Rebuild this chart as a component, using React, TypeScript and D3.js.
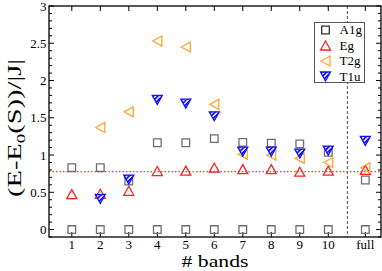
import * as d3 from 'd3'
import React from 'react'

// x positions of the categories ("full" sits a bit further right)
const bandPos = [1, 2, 3, 4, 5, 6, 7, 8, 9, 10, 11.3]
const bandLabels = ['1', '2', '3', '4', '5', '6', '7', '8', '9', '10', 'full']

const groundVals = [0, 0, 0, 0, 0, 0, 0, 0, 0, 0, 0]
const a1gVals = [0.83, 0.83, 0.65, 1.165, 1.165, 1.22, 1.17, 1.16, 1.15, 1.035, 0.665]
const egVals = [0.475, 0.48, 0.52, 0.785, 0.79, 0.83, 0.81, 0.81, 0.776, 0.79, 0.8]
const t2gVals: (number | null)[] = [null, 1.37, 1.58, 2.53, 2.45, 1.68, 1.01, 1.0, 0.955, 0.9, 0.83]
const t1uVals: (number | null)[] = [null, 0.41, 0.67, 1.74, 1.69, 1.52, 1.045, 1.045, 1.02, 1.06, 1.19]

const refLine = 0.776
const splitPos = 10.67

const yTicks = [0, 0.5, 1, 1.5, 2, 2.5, 3]

const W = 382
const H = 271
const margin = { top: 6, right: 1, bottom: 34, left: 49 }
const font = 'Liberation Serif, serif'

const colors = { A1g: '#6e6e6e', Eg: '#ff2020', T2g: '#ffa530', T1u: '#1010ff' }

type Shape = 'square' | 'up' | 'left' | 'down'

function shapePath(shape: Shape) {
    if (shape === 'square') return 'M-3.8,-3.8H3.8V3.8H-3.8Z'
    if (shape === 'up') return 'M0,-4.5L5,4.5L-5,4.5Z'
    if (shape === 'left') return 'M-4.5,0L4.5,-5L4.5,5Z'
    return 'M0,4.5L-5,-4.5L5,-4.5Z'
}

export default function App() {
    const svgRef = React.useRef<SVGSVGElement | null>(null)

    React.useEffect(() => {
        const svg = d3.select(svgRef.current)
        svg.selectAll('*').remove()

        const x = d3.scaleLinear().domain([0.2, 11.85]).range([margin.left, W - margin.right])
        const y = d3.scaleLinear().domain([-0.1, 3]).range([H - margin.bottom, margin.top])

        const x0 = margin.left
        const x1 = W - margin.right
        const y0 = H - margin.bottom
        const y1 = margin.top

        // hatch for T1u
        const defs = svg.append('defs')
        const pat = defs
            .append('pattern')
            .attr('id', 'hatch')
            .attr('patternUnits', 'userSpaceOnUse')
            .attr('width', 3.2)
            .attr('height', 3.2)
            .attr('patternTransform', 'rotate(45)')
        pat.append('rect').attr('width', 3.2).attr('height', 3.2).attr('fill', '#fff')
        pat.append('rect').attr('width', 1.8).attr('height', 3.2).attr('fill', colors.T1u)

        // reference line
        svg.append('line')
            .attr('x1', x0)
            .attr('x2', x1)
            .attr('y1', y(refLine))
            .attr('y2', y(refLine))
            .attr('stroke', '#ff3030')
            .attr('stroke-width', 1.2)
            .attr('stroke-dasharray', '1.5,2')

        // separator before "full"
        svg.append('line')
            .attr('x1', x(splitPos))
            .attr('x2', x(splitPos))
            .attr('y1', y1)
            .attr('y2', y0)
            .attr('stroke', '#555')
            .attr('stroke-width', 1)
            .attr('stroke-dasharray', '3,2')

        // ticks
        const ticks = svg.append('g').attr('stroke', '#000').attr('stroke-width', 1)
        const minor = d3.range(-0.1, 3.001, 0.1).filter((v) => Math.abs(v * 2 - Math.round(v * 2)) > 0.01)
        yTicks.forEach((v) => {
            ticks.append('line').attr('x1', x0).attr('x2', x0 + 5).attr('y1', y(v)).attr('y2', y(v))
            ticks.append('line').attr('x1', x1).attr('x2', x1 - 5).attr('y1', y(v)).attr('y2', y(v))
        })
        minor.forEach((v) => {
            ticks.append('line').attr('x1', x0).attr('x2', x0 + 3).attr('y1', y(v)).attr('y2', y(v))
            ticks.append('line').attr('x1', x1).attr('x2', x1 - 3).attr('y1', y(v)).attr('y2', y(v))
        })
        bandPos.forEach((v) => {
            ticks.append('line').attr('x1', x(v)).attr('x2', x(v)).attr('y1', y0).attr('y2', y0 - 5)
            ticks.append('line').attr('x1', x(v)).attr('x2', x(v)).attr('y1', y1).attr('y2', y1 + 5)
        })

        // frame
        svg.append('rect')
            .attr('x', x0)
            .attr('y', y1)
            .attr('width', x1 - x0)
            .attr('height', y0 - y1)
            .attr('fill', 'none')
            .attr('stroke', '#000')
            .attr('stroke-width', 1.3)

        // tick labels
        svg.append('g')
            .selectAll('text')
            .data(yTicks)
            .join('text')
            .attr('x', x0 - 2.5)
            .attr('y', (d) => y(d) + 4.5)
            .attr('text-anchor', 'end')
            .attr('font-family', font)
            .attr('font-size', 13)
            .text((d) => String(d))

        svg.append('g')
            .selectAll('text')
            .data(bandPos)
            .join('text')
            .attr('x', (d) => x(d))
            .attr('y', 249)
            .attr('text-anchor', 'middle')
            .attr('font-family', font)
            .attr('font-size', 13)
            .text((d, i) => bandLabels[i])

        // axis titles
        svg.append('text')
            .attr('x', (x0 + x1) / 2)
            .attr('y', 267)
            .attr('text-anchor', 'middle')
            .attr('font-family', font)
            .attr('font-size', 17)
            .attr('textLength', 67)
            .attr('lengthAdjust', 'spacingAndGlyphs')
            .text('# bands')

        const yl = svg
            .append('text')
            .attr('transform', 'translate(21,128) rotate(-90)')
            .attr('text-anchor', 'middle')
            .attr('font-family', font)
            .attr('font-size', 18)
            .attr('textLength', 138)
            .attr('lengthAdjust', 'spacingAndGlyphs')
        yl.append('tspan').text('(E-E')
        yl.append('tspan').attr('font-size', 12).attr('dy', 4).text('0')
        yl.append('tspan').attr('dy', -4).text('(S))/|J|')

        // markers
        const series: { name: string; vals: (number | null)[]; shape: Shape; color: string; fill: string }[] = [
            { name: 'ground', vals: groundVals, shape: 'square', color: colors.A1g, fill: 'none' },
            { name: 'A1g', vals: a1gVals, shape: 'square', color: colors.A1g, fill: 'none' },
            { name: 'Eg', vals: egVals, shape: 'up', color: colors.Eg, fill: 'none' },
            { name: 'T2g', vals: t2gVals, shape: 'left', color: colors.T2g, fill: 'none' },
            { name: 'T1u', vals: t1uVals, shape: 'down', color: colors.T1u, fill: 'url(#hatch)' },
        ]
        series.forEach((s) => {
            svg.append('g')
                .selectAll('path')
                .data(s.vals.map((v, i) => ({ v, i })).filter((d) => d.v !== null))
                .join('path')
                .attr('transform', (d) => `translate(${x(bandPos[d.i])},${y(d.v as number)})`)
                .attr('d', shapePath(s.shape))
                .attr('fill', s.fill)
                .attr('stroke', s.color)
                .attr('stroke-width', 1.3)
        })

        // legend
        const lg = svg.append('g')
        lg.append('rect')
            .attr('x', 314.5)
            .attr('y', 22.5)
            .attr('width', 50)
            .attr('height', 60)
            .attr('fill', '#fff')
            .attr('stroke', '#555')
            .attr('stroke-width', 1)
        series.slice(1).forEach((s, i) => {
            const by = 34 + i * 15.5
            lg.append('path')
                .attr('transform', `translate(325.5,${by - 4})`)
                .attr('d', shapePath(s.shape))
                .attr('fill', s.fill)
                .attr('stroke', s.name === 'A1g' ? '#333' : s.color)
                .attr('stroke-width', 1.3)
            lg.append('text')
                .attr('x', 339.5)
                .attr('y', by)
                .attr('font-family', font)
                .attr('font-size', 13)
                .text(s.name)
        })
    }, [])

    return (
        <svg
            ref={svgRef}
            width={W}
            height={H}
            style={{ position: 'absolute', left: 0, top: 0, background: '#fff' }}
        ></svg>
    )
}
